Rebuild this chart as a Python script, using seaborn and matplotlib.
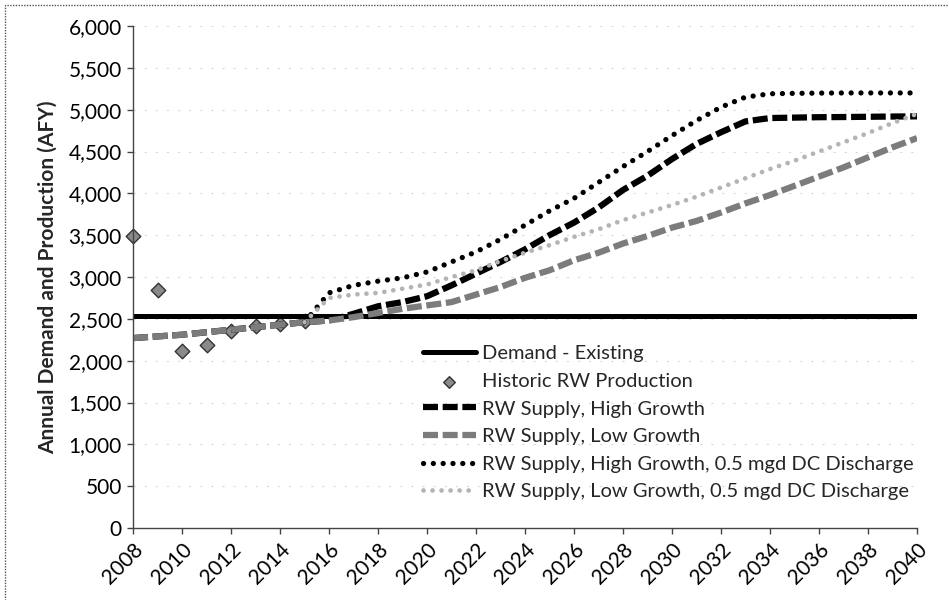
import numpy as np
import pandas as pd
import seaborn as sns
from matplotlib import pyplot as plt
from matplotlib.patches import Rectangle
from matplotlib.ticker import FuncFormatter, MultipleLocator

years = list(range(2008, 2041))

demand_existing = [2530] * len(years)

hist_years = [2008, 2009, 2010, 2011, 2012, 2013, 2014, 2015]
hist_production = [3490, 2850, 2120, 2190, 2350, 2410, 2440, 2480]

supply_high = [2270, 2290, 2310, 2340, 2370, 2400, 2430, 2460, 2480, 2560, 2650,
               2700, 2770, 2900, 3040, 3180, 3330, 3500, 3650, 3830, 4040, 4210,
               4410, 4590, 4730, 4860, 4900, 4905, 4910, 4912, 4915, 4918, 4920]
supply_low = [2270, 2290, 2310, 2340, 2370, 2400, 2430, 2460, 2480, 2520, 2570,
              2620, 2660, 2700, 2790, 2880, 2990, 3080, 3200, 3290, 3400, 3490,
              3590, 3670, 3770, 3880, 3980, 4090, 4200, 4310, 4430, 4550, 4660]

dc_years = list(range(2015, 2041))
dc_high = [2460, 2810, 2900, 2950, 2990, 3060, 3180, 3300, 3450, 3620, 3790, 3940,
           4130, 4320, 4500, 4690, 4870, 5030, 5150, 5190, 5195, 5198, 5200, 5200,
           5200, 5200]
dc_low = [2460, 2750, 2790, 2810, 2860, 2910, 3000, 3080, 3190, 3290, 3380, 3480,
          3570, 3680, 3770, 3860, 3960, 4070, 4180, 4290, 4390, 4500, 4610, 4720,
          4840, 4950]

sns.set_theme(style="ticks")
plt.rcParams["font.family"] = ["Lato", "DejaVu Sans"]

fig = plt.figure(figsize=(9.49, 6.0), dpi=100)
ax = fig.add_axes([133 / 949, 72 / 600, 784 / 949, 502 / 600])

for v in range(500, 6001, 500):
    ax.axhline(v, color="#d9d9d9", lw=0.8, ls=(0, (2, 8)), zorder=0)

sns.lineplot(x=years, y=demand_existing, ax=ax, color="black", linewidth=3.6,
             label="Demand - Existing", zorder=2)
sns.scatterplot(x=hist_years, y=hist_production, ax=ax, marker="D", s=55,
                color="#8a8a8a", edgecolor="#333333", linewidth=1.0,
                label="Historic RW Production", clip_on=False, zorder=1.5)
sns.lineplot(x=years, y=supply_high, ax=ax, color="black", linewidth=4.5,
             linestyle=(0, (2.4, 0.75)), label="RW Supply, High Growth", zorder=2)
sns.lineplot(x=years, y=supply_low, ax=ax, color="#7c7c7c", linewidth=4.5,
             linestyle=(0, (2.4, 0.75)), label="RW Supply, Low Growth", zorder=2)
sns.lineplot(x=dc_years, y=dc_high, ax=ax, color="black", linewidth=3.8,
             linestyle=(0, (0.01, 1.85)), dash_capstyle="round",
             label="RW Supply, High Growth, 0.5 mgd DC Discharge", zorder=2)
sns.lineplot(x=dc_years, y=dc_low, ax=ax, color="#b4b4b4", linewidth=3.4,
             linestyle=(0, (0.01, 1.9)), dash_capstyle="round",
             label="RW Supply, Low Growth, 0.5 mgd DC Discharge", zorder=2)

ax.set_xlim(2008, 2040)
ax.set_ylim(0, 6000)
ax.xaxis.set_major_locator(MultipleLocator(2))
ax.yaxis.set_major_locator(MultipleLocator(500))
ax.yaxis.set_major_formatter(FuncFormatter(lambda v, p: f"{int(v):,}"))
ax.tick_params(axis="both", labelsize=15, length=4, width=1, color="#444444",
               labelcolor="black", pad=4)
plt.setp(ax.get_xticklabels(), rotation=45, ha="right", rotation_mode="anchor")
sns.despine(ax=ax)
for s in ["left", "bottom"]:
    ax.spines[s].set_color("#444444")
    ax.spines[s].set_linewidth(1)

ax.set_ylabel("Annual Demand and Production (AFY)", fontsize=15,
              fontweight="bold", labelpad=8)
ax.set_xlabel("")

leg = ax.legend(loc="upper left", bbox_to_anchor=(0.36, 0.38), frameon=False,
                fontsize=14.5, handlelength=2.6, handletextpad=0.3,
                labelspacing=0.52, borderaxespad=0)
leg.legend_handles[1].set_sizes([35])

fig.patches.append(Rectangle((5 / 949, -0.01), 1.0, 1 - 5 / 600 + 0.01,
                             transform=fig.transFigure, fill=False,
                             edgecolor="#555555", lw=1, ls=(0, (1, 1))))

fig.savefig("out.png", dpi=100)
